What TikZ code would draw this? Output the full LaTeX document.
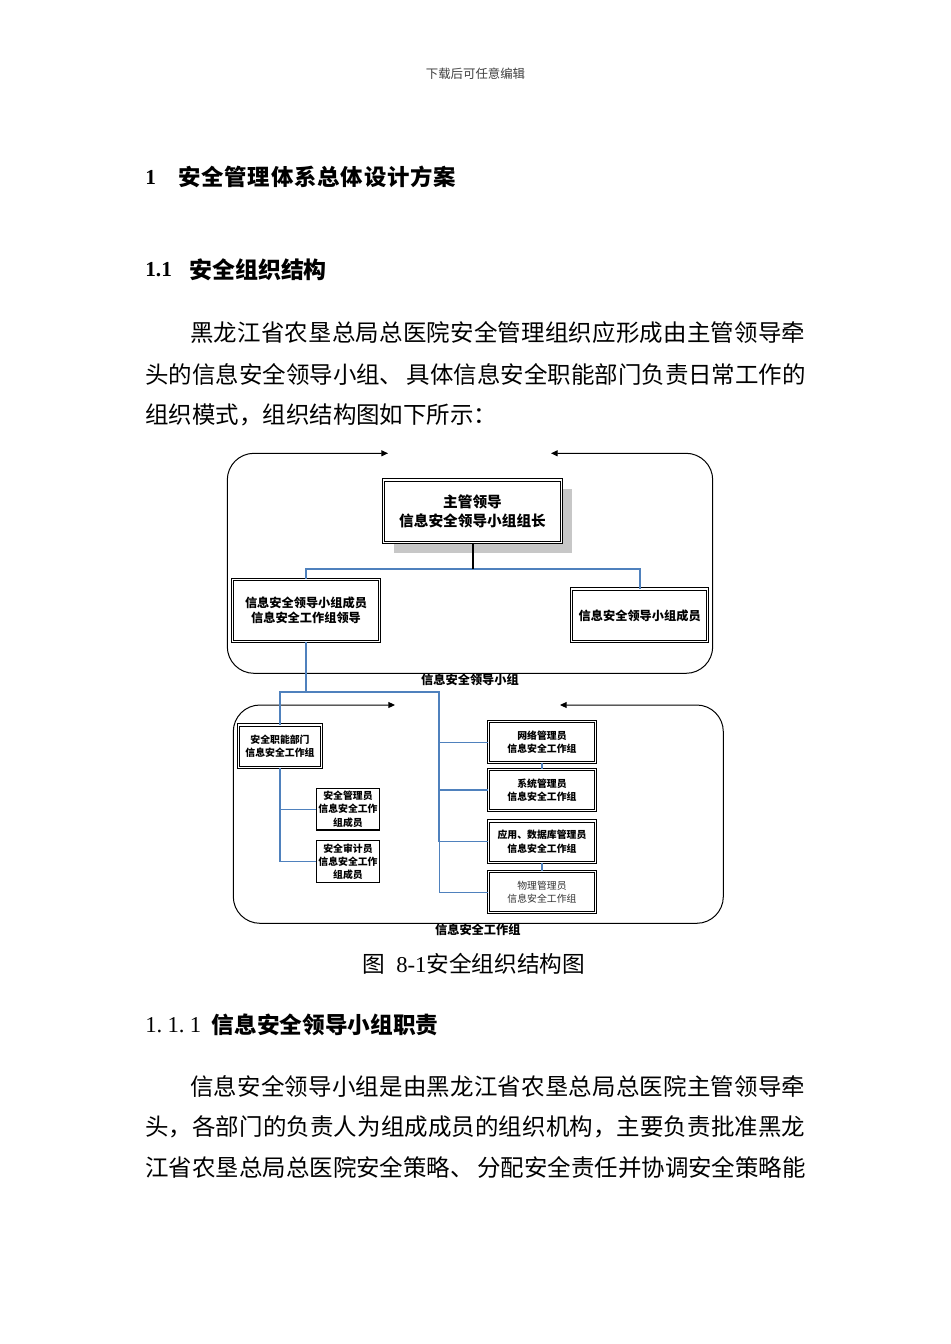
\documentclass[tikz,border=0pt]{standalone}
\usepackage{fontspec}
\setmainfont{Liberation Serif}
\newfontfamily\cjk{Noto Sans CJK SC}
\usetikzlibrary{arrows.meta}
\definecolor{lineblue}{RGB}{79,129,189}
\makeatletter
\def\spreadline#1#2{\hbox to #1{\spr@#2\relax\unskip}}
\def\spr@#1{\ifx#1\relax\else#1\hfil\expandafter\spr@\fi}
\makeatother
\newcommand\bodyfnt{\cjk\fontsize{17.6}{21}\selectfont}
\tikzset{
  txt/.style={inner sep=0pt, anchor=west},
  box/.style={draw=black, double, double distance=1pt, line width=0.75pt, fill=white, inner sep=0pt, align=center},
  sbox/.style={draw=black, line width=0.8pt, fill=white, inner sep=0pt, align=center},
  fa/.style={font=\cjk\bfseries\fontsize{11}{14.3}\selectfont},
  fb/.style={font=\cjk\bfseries\fontsize{9.15}{11.7}\selectfont},
  fc/.style={font=\cjk\bfseries\fontsize{7.4}{10}\selectfont},
  fcr/.style={font=\cjk\fontsize{7.4}{10}\selectfont, text=black!80},
  grouplabel/.style={inner sep=0pt, font=\cjk\bfseries\fontsize{9.15}{11}\selectfont},
  bthick/.style={draw=lineblue, line width=1.5pt},
  bthin/.style={draw=lineblue, line width=0.8pt},
  frame/.style={draw=black, line width=0.75pt, rounded corners=20pt, {Triangle[length=5pt,width=4.5pt]}-{Triangle[length=5pt,width=4.5pt]}},
}
\begin{document}
\begin{tikzpicture}[x=0.75pt,y=-0.75pt]
\useasboundingbox (0,0) rectangle (950,1344);
\fill[white] (0,0) rectangle (950,1344);

% header
\node[inner sep=0pt, font=\cjk\fontsize{9.3}{11}\selectfont, text=black!75] (hdr) at (475.5,74) {下载后可任意编辑};

% heading 1
\node[txt, font=\fontsize{16}{19}\selectfont\bfseries] (h1n) at (145,177) {1};
\node[txt, font=\cjk\bfseries\fontsize{16.8}{20}\selectfont] (h1t) at (178,177) {\spreadline{208.5pt}{安全管理体系总体设计方案}};

% heading 1.1
\node[txt, font=\fontsize{16}{19}\selectfont\bfseries] (h2n) at (145,270) {1.1};
\node[txt, font=\cjk\bfseries\fontsize{17.2}{20}\selectfont] (h2t) at (189,270) {安全组织结构};

% paragraph 1
\node[txt, font=\bodyfnt] (p1) at (190,333) {\spreadline{461.25pt}{黑龙江省农垦总局总医院安全管理组织应形成由主管领导牵}};
\node[txt, font=\bodyfnt] (p2) at (145,374) {\spreadline{495pt}{头的信息安全领导小组、~具体信息安全职能部门负责日常工作的}};
\node[txt, font=\bodyfnt] (p3) at (145,415) {组织模式，组织结构图如下所示：};

% ---------- diagram ----------
% frame 1
\draw[frame] (551,453.3) -- (712.7,453.3) -- (712.7,673.3) -- (227.3,673.3) -- (227.3,453.3) -- (388,453.3);
\node[grouplabel] (g1) at (470,679.5) {信息安全领导小组};

% frame 2
\draw[frame] (560,705) -- (723.3,705) -- (723.3,923.3) -- (233.3,923.3) -- (233.3,705) -- (395,705);
\node[grouplabel] (g2) at (477.8,929.5) {信息安全工作组};

% shadow of top box
\fill[black!22] (394,489) rectangle (572,553);

\node[box, fa, minimum width=133.8pt, minimum height=46.7pt] (A) at (472.5,511.15) {主管领导\\信息安全领导小组组长};
\node[box, fb, minimum width=110pt, minimum height=46.8pt] (B) at (306,610.5) {信息安全领导小组成员\\信息安全工作组领导};
\node[box, fb, minimum width=102pt, minimum height=39.5pt] (C) at (639.7,615.35) {信息安全领导小组成员};

\node[box, fc, minimum width=62.55pt, minimum height=31.7pt] (D) at (280,746.15) {安全职能部门\\信息安全工作组};
\node[sbox, fc, minimum width=47pt, minimum height=31.3pt] (E) at (348,809.15) {安全管理员\\信息安全工作\\组成员};
\node[sbox, fc, minimum width=47pt, minimum height=31.5pt] (F) at (348,861.7) {安全审计员\\信息安全工作\\组成员};

\node[box, fc, minimum width=80.55pt, minimum height=30.75pt] (G) at (542,742.2) {网络管理员\\信息安全工作组};
\node[box, fc, minimum width=80.55pt, minimum height=31pt] (H) at (542,790) {系统管理员\\信息安全工作组};
\node[box, fc, minimum width=80.55pt, minimum height=31.3pt] (I) at (542,841.85) {应用、数据库管理员\\信息安全工作组};
\node[box, fcr, minimum width=80.55pt, minimum height=30.75pt] (J) at (542,892.2) {物理管理员\\信息安全工作组};

% connectors
\coordinate (hub) at (472.5,568.5);
\draw[bthick] (B.north) |- (hub) -| (C.north);
\draw[black, line width=1.5pt] (A.south) -- (hub);

\coordinate (j1) at (306,692);
\coordinate (j2) at (439.3,692);
\coordinate (j3) at (439.3,841.85);
\coordinate (j4) at (439.3,892.2);
\draw[bthick] (B.south) -- (j1) -- (j2) -- (j3);
\draw[bthin] (j3) -- (j4);
\draw[bthin] (j1) -| (D.north);

\draw[bthin] (G.west -| j2) -- (G.west);
\draw[bthin] (H.west -| j2) -- (H.west);
\draw[bthin] (I.west -| j2) -- (I.west);
\draw[bthin] (J.west -| j2) -- (J.west);
\draw[bthin] (G.south) -- (H.north);
\draw[bthin] (I.south) -- (J.north);

\draw[bthin] (D.south) |- (F.west);
\draw[bthin] (D.south |- E.west) -- (E.west);

% caption
\node[txt, font=\fontsize{17}{20}\selectfont] (cap) at (362,964) {{\cjk 图}\hspace{8.5pt}8-1{\cjk 安全组织结构图}};

% heading 1.1.1
\node[txt, font=\fontsize{17}{20}\selectfont] (h3n) at (145,1025) {1.\hspace{4pt}1.\hspace{4pt}1};
\node[txt, font=\cjk\bfseries\fontsize{17}{20}\selectfont] (h3t) at (211.7,1025) {信息安全领导小组职责};

% paragraph 2
\node[txt, font=\bodyfnt] (q1) at (190,1086) {\spreadline{461.25pt}{信息安全领导小组是由黑龙江省农垦总局总医院主管领导牵}};
\node[txt, font=\bodyfnt] (q2) at (145,1127) {\spreadline{495pt}{头，各部门的负责人为组成成员的组织机构，主要负责批准黑龙}};
\node[txt, font=\bodyfnt] (q3) at (145,1168) {\spreadline{495pt}{江省农垦总局总医院安全策略、~分配安全责任并协调安全策略能}};
\end{tikzpicture}
\end{document}
